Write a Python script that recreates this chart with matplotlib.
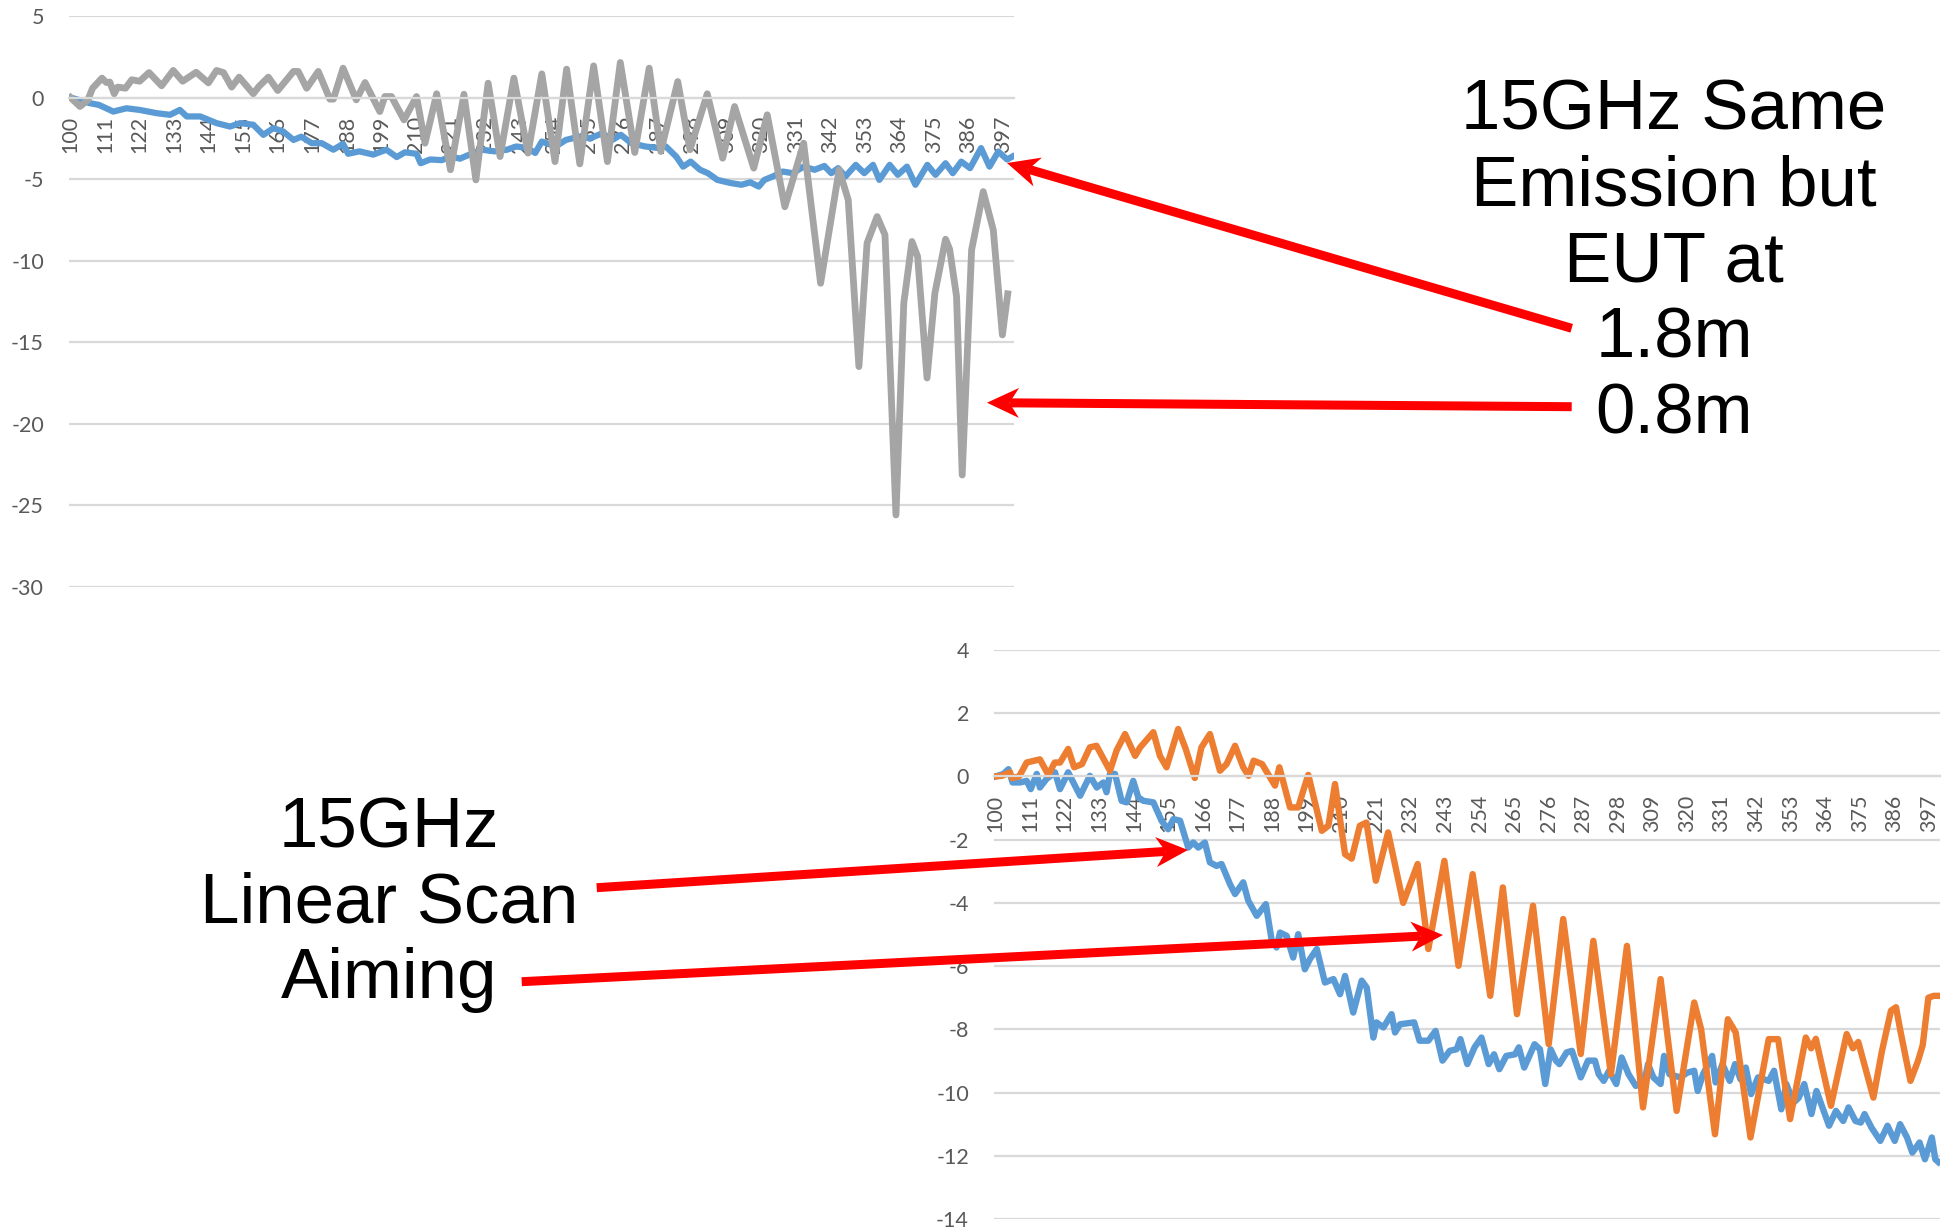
import numpy as np
import matplotlib.pyplot as plt
from matplotlib.patches import Polygon

plt.rcParams["font.family"] = ["Lato", "DejaVu Sans"]
plt.rcParams["axes.unicode_minus"] = False

W, H = 1956, 1230

XTICKS = list(range(100, 400, 11))

# top chart: 15GHz, EUT at 1.8m (blue) and 0.8m (gray)
top_blue_x = [100, 102.5, 106.2, 109, 113.6, 117.8, 122, 127.4, 131.7, 134.8,
              137, 141.3, 146.5, 150.8, 154, 158.2, 161.4, 164.6, 167.7, 171,
              173.5, 176.8, 180, 183.7, 186.8, 188.4, 192, 196.4, 200.6, 203.9,
              206.5, 210.2, 211.5, 214.5, 218.3, 221, 224, 228.3, 231, 235,
              239, 242, 245.5, 248, 250.1, 254.5, 257.8, 262.2, 265.5, 269.4,
              272.5, 275.3, 278.6, 283, 287.4, 289.6, 292.9, 295.1, 297.5, 300.5,
              303, 306, 310.4, 313.7, 316.5, 319.2, 321, 323.7, 326.9, 330,
              333.5, 337, 340.1, 342.3, 344.5, 346.8, 350.1, 352.8, 355.6, 357.6,
              360.9, 363.5, 366.4, 369.1, 372.9, 375.5, 378.7, 381, 383.7, 386.5,
              390, 392.7, 395.5, 398.3, 400]
top_blue_y = [0, -0.14, -0.35, -0.45, -0.86, -0.66, -0.76, -0.96, -1.06, -0.76,
              -1.16, -1.16, -1.57, -1.78, -1.57, -1.67, -2.29, -1.88, -2.08, -2.6,
              -2.4, -2.8, -2.8, -3.2, -2.84, -3.45, -3.3, -3.5, -3.2, -3.65,
              -3.36, -3.45, -4.03, -3.8, -3.84, -3.6, -3.75, -3.4, -3.2, -3.3,
              -3.2, -3.0, -3.1, -3.4, -2.7, -3.0, -2.6, -2.39, -2.5, -2.19,
              -2.6, -2.29, -2.8, -3.0, -3.1, -3.0, -3.62, -4.24, -3.93, -4.43,
              -4.64, -5.05, -5.25, -5.35, -5.2, -5.46, -5.05, -4.84, -4.54, -4.64,
              -4.24, -4.43, -4.2, -4.64, -4.33, -4.84, -4.13, -4.64, -4.13, -5.05,
              -4.13, -4.74, -4.24, -5.35, -4.13, -4.74, -4.03, -4.64, -3.93, -4.33,
              -3.1, -4.24, -3.31, -3.8, -3.62]

top_gray_x = [100, 103, 105.5, 107, 110, 111.4, 112.5, 113.9, 115, 117.5,
              119.5, 122, 125, 129, 132.7, 135.7, 140, 143.9, 146.5, 148.7,
              151.3, 153.7, 158.2, 160, 163, 166, 171, 172.5, 175.2, 178.9,
              182.6, 183.7, 186.8, 191, 193.8, 198.5, 200.1, 202.2, 206.2, 210.2,
              212.9, 216.6, 221, 225.3, 229.1, 233, 236.8, 241.2, 245.7, 250.1,
              254.3, 258, 262.2, 266.6, 271, 275.1, 279.7, 284.3, 288, 293.4,
              297.3, 302.8, 307.7, 311.5, 317.6, 321.9, 327.5, 333.5, 338.9, 344.8,
              347.7, 351.1, 353.7, 356.9, 359.4, 362.9, 365.4, 368, 369.8, 372.8,
              375.3, 378.7, 380, 382.2, 384, 387, 390.7, 393.9, 396.8, 398.5]
top_gray_y = [0, -0.55, -0.15, 0.57, 1.19, 0.92, 0.95, 0.23, 0.64, 0.57,
              1.09, 1.0, 1.53, 0.72, 1.66, 1.0, 1.55, 0.9, 1.66, 1.53,
              0.64, 1.25, 0.23, 0.68, 1.25, 0.43, 1.6, 1.6, 0.57, 1.6,
              -0.1, -0.1, 1.8, -0.14, 0.92, -0.86, 0.06, 0.06, -1.37, 0.06,
              -2.8, 0.23, -4.43, 0.2, -5.05, 0.88, -3.62, 1.19, -3.41, 1.45,
              -3.93, 1.74, -4.07, 1.94, -3.93, 2.15, -3.37, 1.8, -3.31, 0.98,
              -3.2, 0.23, -3.72, -0.55, -4.33, -1.06, -6.7, -2.8, -11.39, -4.43,
              -6.28, -16.5, -8.93, -7.3, -8.42, -25.6, -12.6, -8.83, -9.75, -17.2,
              -12.0, -8.69, -9.3, -12.2, -23.15, -9.34, -5.77, -8.12, -14.56, -12.04]

# bottom chart: 15GHz linear scan (blue) and aiming (orange)
bot_blue_x = [100, 102.5, 104.1, 105.4, 107.8, 109.9, 111.2, 113.1, 114.1, 116.2,
              118.9, 120.5, 123.1, 126.9, 130, 132.2, 134.3, 135.3, 136.4, 138,
              140.1, 141.7, 143.8, 145.4, 147, 150.2, 152.8, 154.9, 156.6, 158.7,
              161.3, 162.9, 164.5, 166.6, 168.2, 170.3,
              171.9, 174.6, 176.2, 178.8, 180.4, 183.1, 186, 187.8, 189.4, 190.5,
              192.6, 194.7, 196.3, 198.4, 200, 202.2, 204.8, 207.5, 209.6, 211.2,
              213.8, 216.5, 218.1, 220.2, 221.2, 223.4, 226, 227.1,
              228.7, 233.2, 234.9, 237.7, 240, 242.2, 244.5, 246.7, 247.9, 250.1,
              252.4, 254.6, 256.9, 258.6, 260.3, 262.5, 265.3, 266.5, 268.2, 271.5,
              273.2, 274.9, 276.6, 278.3, 279.4, 281.7, 283.4, 286.2, 288.5, 290.7,
              291.9, 293.5, 295.2, 297.5, 299.2, 301.4, 303.7, 306.5, 307.6, 309.3,
              311.6, 312.7, 314.4, 317.8, 320.1, 322.3, 323.4, 325.1, 328, 329.1,
              331.3, 333.6, 335.3, 337, 338.7, 340.4, 342.6, 346, 347.7, 350,
              351.6, 353.9, 355.6, 357.3, 359.6, 361.2, 363.5, 365.2, 367.4, 369.7,
              371.4, 373.6, 375.3, 376.5, 378.7, 381.5, 383.8, 386.1, 387.8, 390,
              391.7, 394, 395.7, 397.9, 399, 400]
bot_blue_y = [0, 0.08, 0.23, -0.19, -0.19, -0.14, -0.4, 0.08, -0.35, -0.08,
              0.13, -0.4, 0.13, -0.61, 0.02, -0.35, -0.19, -0.5, 0.08, 0.08,
              -0.77, -0.82, -0.14, -0.66, -0.77, -0.82, -1.4, -1.67, -1.35, -1.4,
              -2.25, -2.09, -2.25, -2.09, -2.72, -2.83,
              -2.77, -3.41, -3.72, -3.35, -3.93, -4.41, -4.04, -5.15, -5.41, -4.94,
              -5.04, -5.73, -4.99, -6.1, -5.78, -5.46, -6.52, -6.41, -6.89, -6.31,
              -7.47, -6.46, -6.68, -8.26, -7.78, -7.94, -7.52, -8.1,
              -7.84, -7.78, -8.36, -8.36, -8.05, -8.99, -8.68, -8.63, -8.31, -9.1,
              -8.57, -8.26, -9.1, -8.79, -9.26, -8.84, -8.79, -8.57, -9.21, -8.47,
              -8.63, -9.73, -8.63, -8.99, -9.1, -8.73, -8.68, -9.52, -8.99, -8.99,
              -9.42, -9.63, -9.31, -9.73, -8.89, -9.42, -9.79, -9.63, -9.1, -9.52,
              -9.73, -8.84, -9.42, -9.52, -9.37, -9.31, -9.95, -9.42, -8.84, -9.68,
              -9.1, -9.63, -9.1, -9.58, -9.21, -10.05, -9.52, -9.63, -9.31, -10.53,
              -9.73, -10.32, -10.16, -9.73, -10.68, -9.95, -10.58, -11.05, -10.58, -10.9,
              -10.47, -10.9, -10.95, -10.68, -11.11, -11.53, -11.05, -11.53, -11.0, -11.42,
              -11.9, -11.58, -12.11, -11.42, -12.11, -12.2]

bot_orange_x = [100, 102, 104.6, 105.2, 107.5, 109.9, 114.1, 116.8, 118.8, 120.5,
                123.1, 125, 127.5, 130, 132.1, 136.4, 138.5, 141.2, 144.4, 146,
                150.2, 152.3, 154.4, 158.1, 160.5, 163.4, 165.5, 168.2, 171.4, 173.5,
                176.2, 178.8, 180.5, 182.1, 184.8, 188.9, 190.3, 193.7, 196.3, 197.9,
                199.5, 203.8, 205.9, 208, 211.2, 213.3, 215.9, 218, 221, 224.9,
                229.7, 232.7, 234.3, 237.7, 242.8, 247.3, 251.8, 257.4, 261.4, 265.9,
                271, 276, 280.6, 286.2, 290.2, 295.8, 300.9, 306, 311.6, 316.7,
                322.3, 324.5, 328.9, 333, 335.5, 340.2, 346, 349, 352.8, 357.8,
                359.5, 361, 365.8, 370.8, 372.8, 374.5, 379.3, 382, 384.9, 386.5,
                388, 391.1, 393.5, 395, 396.8, 398.5, 400]
bot_orange_y = [0, 0.02, 0.13, -0.05, 0, 0.44, 0.54, 0.05, 0.44, 0.44,
                0.87, 0.29, 0.39, 0.92, 0.97, 0.18, 0.82, 1.34, 0.65, 0.92,
                1.4, 0.65, 0.29, 1.5, 0.87, -0.05, 0.92, 1.34, 0.18, 0.39,
                0.97, 0.29, 0.02, 0.5, 0.39, -0.29, 0.29, -0.98, -0.98, -0.45,
                0.05, -1.72, -1.56, -0.24, -2.46, -2.6, -1.56, -1.46, -3.3, -1.77,
                -4.0, -3.2, -2.77, -5.46, -2.67, -5.99, -3.09, -6.94, -3.51, -7.52,
                -4.09, -8.47, -4.51, -8.78, -5.2, -9.42, -5.36, -10.47, -6.41, -10.58,
                -7.15, -8.0, -11.32, -7.68, -8.1, -11.42, -8.31, -8.31, -10.84, -8.26,
                -8.6, -8.3, -10.42, -8.15, -8.6, -8.4, -10.16, -8.7, -7.41, -7.3,
                -8.1, -9.63, -9.0, -8.5, -7.0, -6.94, -6.94]

BLUE, GRAY, ORANGE = "#5B9BD5", "#A5A5A5", "#ED7D31"
NOTE_FONT = "Liberation Sans"


def setup(ax, ylim, yticks):
    # move the category axis to y=0 first: set_position resets the ticks
    for s in ["top", "right", "left"]:
        ax.spines[s].set_visible(False)
    ax.spines["bottom"].set_position(("data", 0))
    ax.spines["bottom"].set_color("#d9d9d9")
    ax.spines["bottom"].set_linewidth(1.6)
    ax.set_xlim(99.5, 400.5)
    ax.set_ylim(*ylim)
    ax.set_yticks(yticks)
    ax.set_xticks(XTICKS)
    ax.grid(axis="y", color="#d9d9d9", lw=1.6)
    ax.grid(axis="x", visible=False)
    ax.tick_params(length=0, labelcolor="#595959", labelsize=15.5)
    ax.tick_params(axis="x", pad=13, labelrotation=90)
    ax.tick_params(axis="y", pad=18)
    ax.set_axisbelow(True)
    ax.patch.set_visible(False)


def arrow(ax, start, tip, lw_px=9, head_len=32, head_w=30):
    s = np.array(start, float)
    t = np.array(tip, float)
    d = (t - s) / np.linalg.norm(t - s)
    n = np.array([-d[1], d[0]])
    notch = t - 0.7 * head_len * d
    base = t - head_len * d
    ax.plot([s[0], notch[0]], [s[1], notch[1]], color="#FF0000",
            lw=lw_px * 0.72, solid_capstyle="butt")
    head = [t, base + head_w / 2 * n, notch, base - head_w / 2 * n]
    ax.add_patch(Polygon(head, closed=True, facecolor="#FF0000", lw=0))


fig = plt.figure(figsize=(W / 100, H / 100), dpi=100)

ax1 = fig.add_axes([69 / W, 1 - 586.7 / H, 945 / W, (586.7 - 16) / H])
setup(ax1, (-30, 5), list(range(-30, 6, 5)))
ax1.plot(top_blue_x, top_blue_y, color=BLUE, lw=4.5, solid_joinstyle="round")
ax1.plot(top_gray_x, top_gray_y, color=GRAY, lw=4.9, solid_joinstyle="round")

ax2 = fig.add_axes([994 / W, 1 - 1219 / H, 946 / W, (1219 - 650) / H])
setup(ax2, (-14, 4), list(range(-14, 5, 2)))
ax2.plot(bot_blue_x, bot_blue_y, color=BLUE, lw=4.6, solid_joinstyle="round")
ax2.plot(bot_orange_x, bot_orange_y, color=ORANGE, lw=4.6, solid_joinstyle="round")

# overlay in pixel coordinates for the notes and arrows
ov = fig.add_axes([0, 0, 1, 1], zorder=10)
ov.set_xlim(0, W)
ov.set_ylim(H, 0)
ov.axis("off")
ov.patch.set_visible(False)

right_lines = ["15GHz Same", "Emission but", "EUT at", "1.8m", "0.8m"]
for i, s in enumerate(right_lines):
    ov.text(1674, 130 + i * 75.8, s, ha="center", va="baseline",
            fontsize=51, family=NOTE_FONT, color="black")

left_lines = ["15GHz", "Linear Scan", "Aiming"]
for i, s in enumerate(left_lines):
    ov.text(389, 847.3 + i * 75.5, s, ha="center", va="baseline",
            fontsize=51, family=NOTE_FONT, color="black")

arrow(ov, (1571.7, 328.3), (1007, 163))
arrow(ov, (1571.7, 406.7), (987, 402.7))
arrow(ov, (596.7, 887.7), (1188, 850))
arrow(ov, (521.7, 981.7), (1443, 935))

fig.savefig("out.png", dpi=100)
